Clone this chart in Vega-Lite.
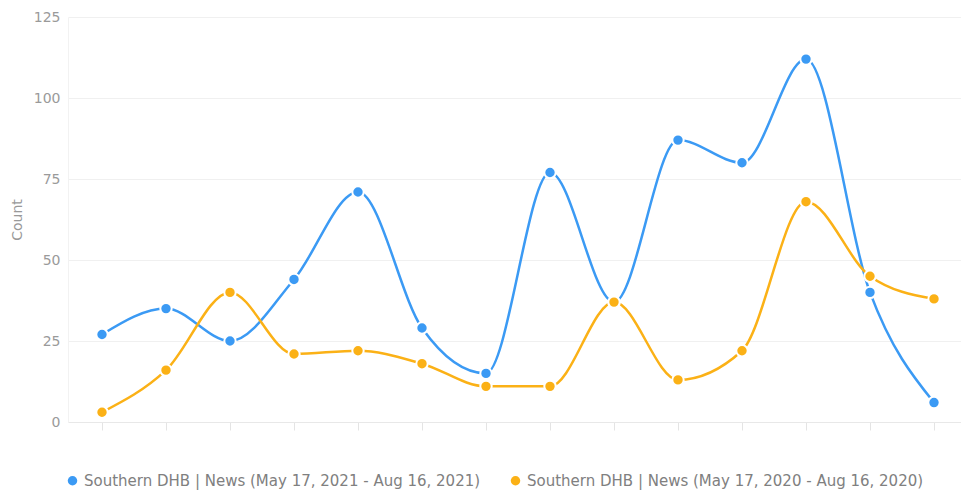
{
  "$schema": "https://vega.github.io/schema/vega-lite/v6.json",
  "width": 900,
  "height": 405,
  "autosize": {"type": "none"},
  "padding": {"left": 68, "top": 17, "right": 0, "bottom": 73},
  "background": "white",
  "config": {
    "font": "DejaVu Sans",
    "view": {"stroke": null},
    "axis": {"labelFont": "DejaVu Sans", "titleFont": "DejaVu Sans"},
    "legend": {"labelFont": "DejaVu Sans"}
  },
  "data": {
    "values": [
      {"period": 1, "series": "Southern DHB | News (May 17, 2021 - Aug 16, 2021)", "count": 27},
      {"period": 2, "series": "Southern DHB | News (May 17, 2021 - Aug 16, 2021)", "count": 35},
      {"period": 3, "series": "Southern DHB | News (May 17, 2021 - Aug 16, 2021)", "count": 25},
      {"period": 4, "series": "Southern DHB | News (May 17, 2021 - Aug 16, 2021)", "count": 44},
      {"period": 5, "series": "Southern DHB | News (May 17, 2021 - Aug 16, 2021)", "count": 71},
      {"period": 6, "series": "Southern DHB | News (May 17, 2021 - Aug 16, 2021)", "count": 29},
      {"period": 7, "series": "Southern DHB | News (May 17, 2021 - Aug 16, 2021)", "count": 15},
      {"period": 8, "series": "Southern DHB | News (May 17, 2021 - Aug 16, 2021)", "count": 77},
      {"period": 9, "series": "Southern DHB | News (May 17, 2021 - Aug 16, 2021)", "count": 37},
      {"period": 10, "series": "Southern DHB | News (May 17, 2021 - Aug 16, 2021)", "count": 87},
      {"period": 11, "series": "Southern DHB | News (May 17, 2021 - Aug 16, 2021)", "count": 80},
      {"period": 12, "series": "Southern DHB | News (May 17, 2021 - Aug 16, 2021)", "count": 112},
      {"period": 13, "series": "Southern DHB | News (May 17, 2021 - Aug 16, 2021)", "count": 40},
      {"period": 14, "series": "Southern DHB | News (May 17, 2021 - Aug 16, 2021)", "count": 6},
      {"period": 1, "series": "Southern DHB | News (May 17, 2020 - Aug 16, 2020)", "count": 3},
      {"period": 2, "series": "Southern DHB | News (May 17, 2020 - Aug 16, 2020)", "count": 16},
      {"period": 3, "series": "Southern DHB | News (May 17, 2020 - Aug 16, 2020)", "count": 40},
      {"period": 4, "series": "Southern DHB | News (May 17, 2020 - Aug 16, 2020)", "count": 21},
      {"period": 5, "series": "Southern DHB | News (May 17, 2020 - Aug 16, 2020)", "count": 22},
      {"period": 6, "series": "Southern DHB | News (May 17, 2020 - Aug 16, 2020)", "count": 18},
      {"period": 7, "series": "Southern DHB | News (May 17, 2020 - Aug 16, 2020)", "count": 11},
      {"period": 8, "series": "Southern DHB | News (May 17, 2020 - Aug 16, 2020)", "count": 11},
      {"period": 9, "series": "Southern DHB | News (May 17, 2020 - Aug 16, 2020)", "count": 37},
      {"period": 10, "series": "Southern DHB | News (May 17, 2020 - Aug 16, 2020)", "count": 13},
      {"period": 11, "series": "Southern DHB | News (May 17, 2020 - Aug 16, 2020)", "count": 22},
      {"period": 12, "series": "Southern DHB | News (May 17, 2020 - Aug 16, 2020)", "count": 68},
      {"period": 13, "series": "Southern DHB | News (May 17, 2020 - Aug 16, 2020)", "count": 45},
      {"period": 14, "series": "Southern DHB | News (May 17, 2020 - Aug 16, 2020)", "count": 38}
    ]
  },
  "encoding": {
    "x": {
      "field": "period",
      "type": "ordinal",
      "scale": {"type": "point", "padding": 0.53125},
      "axis": {
        "title": null,
        "labels": false,
        "domainColor": "#e8e8e8",
        "tickColor": "#e4e4e4",
        "tickSize": 8,
        "grid": false
      }
    },
    "y": {
      "field": "count",
      "type": "quantitative",
      "scale": {"domain": [0, 125]},
      "axis": {
        "title": "Count",
        "titleColor": "#999999",
        "titleFontSize": 14,
        "titleFontWeight": "normal",
        "titlePadding": 9,
        "values": [0, 25, 50, 75, 100, 125],
        "labelColor": "#9a9a9a",
        "labelFontSize": 14,
        "labelPadding": 8,
        "ticks": false,
        "domain": true,
        "domainColor": "#f2f2f2",
        "gridColor": "#f0f0f0"
      }
    },
    "color": {
      "field": "series",
      "type": "nominal",
      "sort": [
        "Southern DHB | News (May 17, 2021 - Aug 16, 2021)",
        "Southern DHB | News (May 17, 2020 - Aug 16, 2020)"
      ],
      "scale": {"range": ["#3b9af4", "#fbb116"]},
      "legend": {
        "title": null,
        "orient": "none",
        "legendX": -3,
        "legendY": 456,
        "direction": "horizontal",
        "symbolType": "circle",
        "symbolSize": 90,
        "symbolStrokeWidth": 0,
        "labelColor": "#808080",
        "labelFontSize": 15,
        "labelOffset": 4,
        "labelLimit": 0,
        "columnPadding": 27
      }
    },
    "order": {"field": "series", "sort": "descending"}
  },
  "layer": [
    {
      "mark": {"type": "line", "interpolate": "monotone", "strokeWidth": 2.5}
    },
    {
      "mark": {"type": "point", "shape": "circle", "filled": true, "size": 130, "stroke": "white", "strokeWidth": 2, "opacity": 1}
    }
  ]
}
